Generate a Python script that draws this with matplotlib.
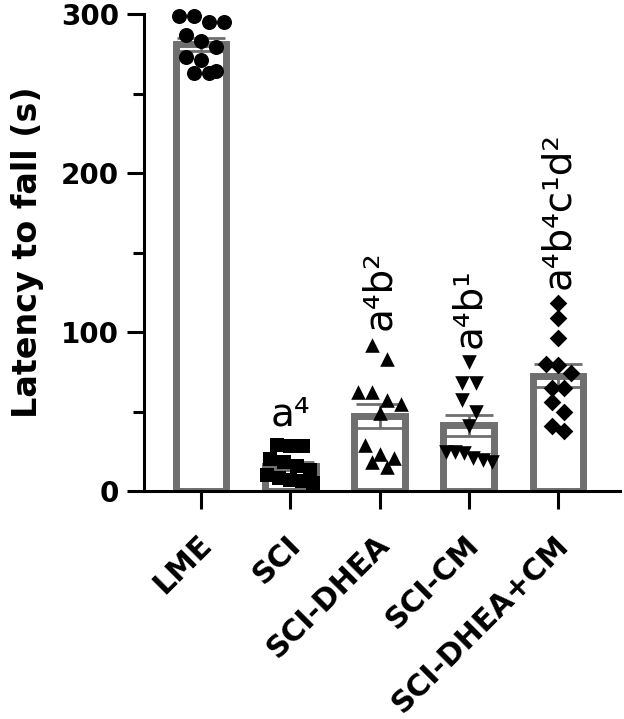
import matplotlib.pyplot as plt
import matplotlib.transforms as mtransforms
import numpy as np

plt.rcParams["font.family"] = ["DejaVu Sans"]

groups = ["LME", "SCI", "SCI-DHEA", "SCI-CM", "SCI-DHEA+CM"]
lme = [299, 299, 295, 295, 287, 283, 279, 273, 271, 264, 263, 263]
sci = [29, 28, 28, 20, 18, 16, 13, 10, 8, 7, 6, 5]
sci_dhea = [92, 83, 62, 62, 57, 55, 49, 29, 23, 21, 18, 15]
sci_cm = [81, 68, 68, 57, 50, 41, 24.5, 24.5, 24, 21, 19.5, 18]
sci_dhea_cm = [118, 109, 96, 80, 79, 74, 65, 65, 56, 50, 41, 38]
letters = ["", "a⁴", "a⁴b²", "a⁴b¹", "a⁴b⁴c¹d²"]

data = [lme, sci, sci_dhea, sci_cm, sci_dhea_cm]
markers = ["o", "s", "^", "v", "D"]
msize = [10.8, 9.5, 10.5, 10.5, 9.0]  # points
gray = "#6f6f6f"

W, H = 624, 719
fig = plt.figure(figsize=(W / 100, H / 100), dpi=100)
ax = fig.add_axes([144 / W, 1 - 491 / H, 476 / W, 477 / H])

xlo, xhi = -0.639, 4.694
ylo, yhi = 0, 300
ax.set_xlim(xlo, xhi)
ax.set_ylim(ylo, yhi)

# pixel -> data scale, used to lay points out in rows like a swarm
px_x = (xhi - xlo) / 476
px_y = (yhi - ylo) / 477
max_span = 46  # px, widest row of points


def swarm(values, row_h, col_w):
    vals = np.sort(np.asarray(values, dtype=float))[::-1]
    dx = np.zeros(len(vals))
    start = 0
    while start < len(vals):
        end = start
        while end < len(vals) and vals[start] - vals[end] < row_h:
            end += 1
        n = end - start
        step = col_w
        if n > 1:
            step = min(col_w, max_span * px_x / (n - 1))
        dx[start:end] = (np.arange(n) - (n - 1) / 2) * step
        start = end
    return vals, dx


x = np.arange(len(groups))
means = np.array([np.mean(d) for d in data])
sems = np.array([np.std(d, ddof=1) / np.sqrt(len(d)) for d in data])

ax.bar(x, means, width=0.57, color="white", edgecolor=gray, linewidth=5, zorder=2)
ax.errorbar(x, means, yerr=sems, fmt="none", ecolor=gray, elinewidth=2,
            capsize=17, capthick=2, zorder=3)

for i, vals in enumerate(data):
    d_px = msize[i] / 0.72
    v, dx = swarm(vals, d_px * px_y, d_px * px_x)
    ax.scatter(i + dx, v, marker=markers[i], s=msize[i] ** 2, c="black",
               linewidths=0, zorder=4, clip_on=False)

for i, lab in enumerate(letters):
    if not lab:
        continue
    top = max(data[i])
    if i == 1:
        ax.text(x[i], top + 12, lab, ha="center", va="baseline", fontsize=28)
    else:
        ax.text(x[i], top + 9, lab, ha="center", va="bottom", fontsize=28,
                rotation=90)

for side in ["top", "right"]:
    ax.spines[side].set_visible(False)
for side in ["left", "bottom"]:
    ax.spines[side].set_linewidth(2.2)

ax.set_yticks([0, 100, 200, 300])
ax.set_yticks([50, 150, 250], minor=True)
ax.tick_params(axis="y", which="major", length=12, width=2.2, labelsize=20, pad=6)
ax.tick_params(axis="y", which="minor", length=8, width=2.2)
for t in ax.get_yticklabels():
    t.set_fontweight("bold")

ax.set_xticks(x)
ax.set_xticklabels(groups, rotation=45, ha="right", va="top",
                   rotation_mode="anchor", fontsize=21.5, fontweight="bold")
ax.tick_params(axis="x", length=13, width=2.2, pad=15)
shift = mtransforms.ScaledTranslation(-3 / 72, 0, fig.dpi_scale_trans)
for t in ax.get_xticklabels():
    t.set_transform(t.get_transform() + shift)

ax.set_ylabel("Latency to fall (s)", fontsize=24, fontweight="bold", labelpad=12)

fig.savefig("out.png", dpi=100)
